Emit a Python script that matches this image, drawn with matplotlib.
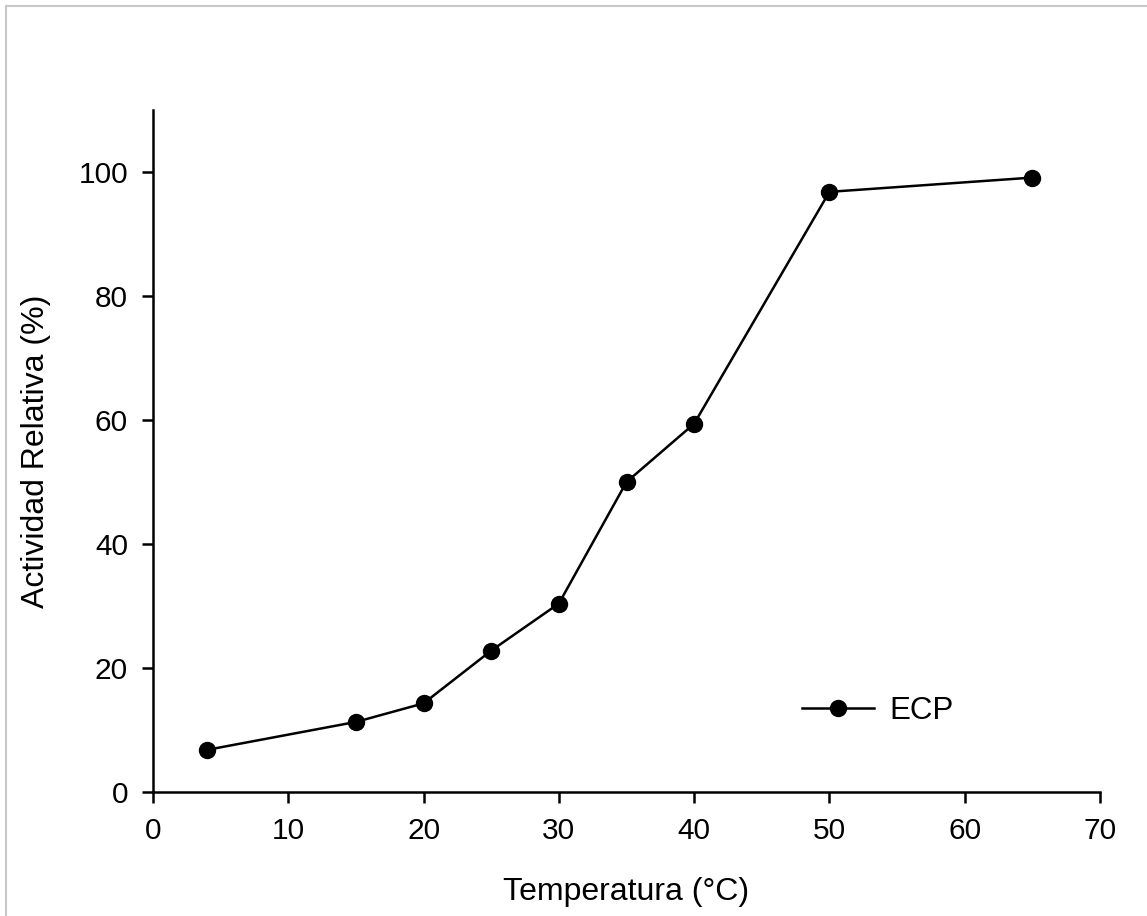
import matplotlib.pyplot as plt
from matplotlib.lines import Line2D

# Temperature (C) vs relative activity (%)
temperatura = [4, 15, 20, 25, 30, 35, 40, 50, 65]
actividad = [6.8, 11.3, 14.3, 22.8, 30.4, 50.0, 59.4, 96.8, 99.1]

plt.rcParams['font.family'] = ['Liberation Sans', 'DejaVu Sans']

fig = plt.figure(figsize=(11.47, 9.16), dpi=100)
ax = fig.add_axes([153 / 1147, 1 - 792 / 916, (1100 - 153) / 1147, (792 - 110) / 916])

ax.plot(temperatura, actividad, color='black', linewidth=1.8,
        marker='o', markersize=11.5, label='ECP')

ax.set_xlim(0, 70)
ax.set_ylim(0, 110)
ax.set_xticks(range(0, 71, 10))
ax.set_yticks(range(0, 101, 20))
ax.spines['top'].set_visible(False)
ax.spines['right'].set_visible(False)
for s in ('left', 'bottom'):
    ax.spines[s].set_linewidth(1.8)
ax.tick_params(direction='out', length=8, width=1.8, labelsize=21.5, pad=10)

ax.set_xlabel('Temperatura (°C)', fontsize=23, labelpad=23)
ax.set_ylabel('Actividad Relativa (%)', fontsize=23, labelpad=20)

ax.legend(loc='lower right', bbox_to_anchor=(0.875, 0.055), frameon=False,
          fontsize=22.5, handlelength=2.3, handletextpad=0.5)

# light frame on left and top edge of the picture
fig.add_artist(Line2D([6 / 1147, 6 / 1147], [0, 1 - 6 / 916], color='#c8c8c8', linewidth=1.5))
fig.add_artist(Line2D([6 / 1147, 1], [1 - 6 / 916, 1 - 6 / 916], color='#c8c8c8', linewidth=1.5))

fig.savefig('out.png', dpi=100)
